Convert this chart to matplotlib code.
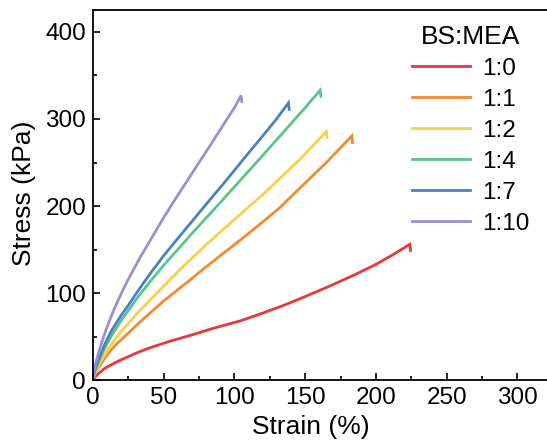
import matplotlib
matplotlib.use("Agg")
import matplotlib.pyplot as plt
from matplotlib.ticker import MultipleLocator

plt.rcParams['font.family'] = ['Liberation Sans', 'DejaVu Sans']

labels = ['1:0', '1:1', '1:2', '1:4', '1:7', '1:10']
colors = ['#e8383d', '#f28a30', '#f9d04c', '#5cc489', '#4a80c4', '#9b8fd0']

# strain (%) / stress (kPa), last point = break hook
x_10 = [0, 1, 2, 3.5, 5, 7.5, 10, 13.5, 17, 21, 25, 33, 41, 48.6, 57, 65, 75, 85, 94, 100, 104.7, 105.2]
y_10 = [0, 12, 20, 29, 37, 50, 61, 76, 89, 103, 116, 140, 162, 183, 205, 225, 250, 275, 298, 313, 327, 320]

x_7 = [0, 1, 2, 3.5, 5, 7.5, 10, 13.5, 17, 21, 25, 32, 40.3, 50, 61.6, 69.8, 80, 95, 110, 120, 130, 138.2, 138.7]
y_7 = [0, 9, 15, 22, 28, 38, 47, 58, 67, 77, 86, 103, 122, 143, 166, 182, 202, 231, 261, 280.5, 300.5, 318.5, 311]

x_4 = [0, 1, 2, 3.5, 5, 7.5, 10, 13.5, 17, 21, 25, 32, 40.3, 50, 61.6, 68.6, 77, 90, 110, 132, 141.8, 150, 160.6, 161.1]
y_4 = [0, 8, 13, 19, 25, 34, 42, 52, 61, 71, 80, 96, 113, 132, 153, 166, 181, 204, 240, 280, 298, 313, 333, 326]

x_2 = [0, 1, 2, 3.5, 5, 7.5, 10, 13.5, 17, 21, 25, 32, 40.3, 50, 61.6, 68.6, 81, 101, 120, 146.5, 165, 165.5]
y_2 = [0, 6, 10, 15, 20, 27, 34, 42, 50, 58, 65, 78, 92, 108, 127, 138, 157, 186, 213, 254, 285.5, 279]

x_1 = [0, 1, 2, 3.5, 5, 7.5, 10, 13.5, 17, 21, 25, 32, 40.3, 50, 60, 68.6, 76, 90, 105, 121.7, 132, 146.5, 165, 183, 183.5]
y_1 = [0, 5, 9, 13, 17, 23, 29, 36, 42, 48, 54, 65, 77, 91, 104, 115, 125, 143, 162, 184, 198, 221, 250, 280.5, 273]

x_0 = [0, 1, 2, 3.5, 5, 7.5, 10, 15, 20, 25, 32, 40, 55, 70, 85, 104, 120, 135, 150, 168, 185, 200, 212, 224, 224.5]
y_0 = [0, 2.5, 4.5, 7, 9, 12.5, 15, 19.5, 23.5, 27, 32, 37, 45, 52, 59.5, 68, 77, 86, 96, 108.5, 121, 133, 144, 156, 149]

xs = [x_0, x_1, x_2, x_4, x_7, x_10]
ys = [y_0, y_1, y_2, y_4, y_7, y_10]

fig = plt.figure(figsize=(5.47, 4.42), dpi=100)
ax = fig.add_axes([0.170, 0.140, 0.830, 0.837])

for xx, yy, c, lab in zip(xs, ys, colors, labels):
    ax.plot(xx, yy, color=c, lw=2.0, label=lab, solid_joinstyle='miter')

ax.set_xlim(0, 321)
ax.set_ylim(0, 425)
ax.xaxis.set_major_locator(MultipleLocator(50))
ax.xaxis.set_minor_locator(MultipleLocator(25))
ax.yaxis.set_major_locator(MultipleLocator(100))
ax.yaxis.set_minor_locator(MultipleLocator(50))
ax.tick_params(which='both', direction='in', width=1.2, labelsize=17.5)
ax.tick_params(axis='x', pad=5)
ax.tick_params(axis='y', pad=5)
ax.tick_params(which='major', length=5)
ax.tick_params(which='minor', length=3)
ax.spines['right'].set_visible(False)
for s in ['left', 'bottom', 'top']:
    ax.spines[s].set_linewidth(1.3)

ax.set_xlabel('Strain (%)', fontsize=19)
ax.set_ylabel('Stress (kPa)', fontsize=19)
ax.xaxis.set_label_coords(0.48, -0.093)
ax.yaxis.set_label_coords(-0.125, 0.505)

leg = ax.legend(title='BS:MEA', loc='upper right', frameon=False, fontsize=17.5,
                title_fontsize=19, handlelength=2.4, handletextpad=0.5,
                labelspacing=0.37, borderaxespad=0.3,
                bbox_to_anchor=(1.0, 1.007))

fig.savefig('out.png', dpi=100)
